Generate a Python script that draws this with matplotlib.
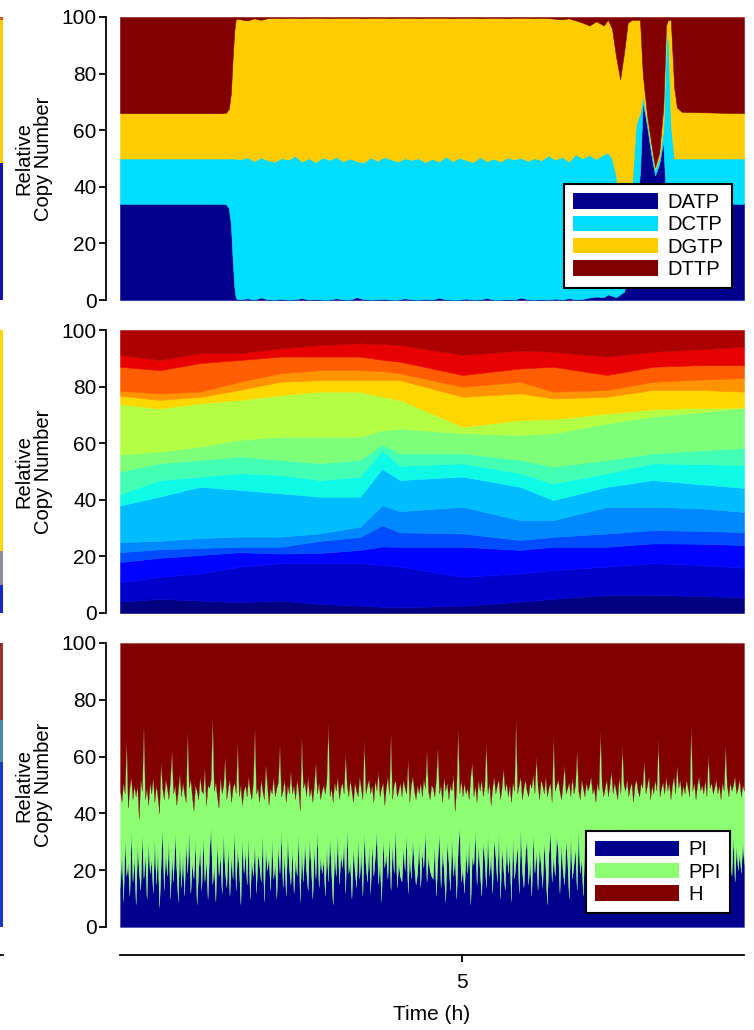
import numpy as np
import matplotlib
matplotlib.use('Agg')
import matplotlib.pyplot as plt
from matplotlib.patches import Patch

plt.rcParams['font.family'] = ['Liberation Sans', 'DejaVu Sans']

# ---------------- top panel: nucleotides ----------------
top_names = ['DATP', 'DCTP', 'DGTP', 'DTTP']
top_colors = ['#00008C', '#00DDFF', '#FFCC00', '#800000']
top_t = [0.00, 1.50, 1.55, 1.59, 1.62, 1.645, 1.67, 1.69, 1.71,
         1.76, 1.86, 1.96, 2.06, 2.16, 2.26, 2.36, 2.46, 2.56, 2.66,
         2.76, 2.86, 2.96, 3.06, 3.16, 3.26, 3.36, 3.46, 3.56, 3.66,
         3.76, 3.86, 3.96, 4.06, 4.16, 4.26, 4.36, 4.46, 4.56, 4.66,
         4.76, 4.86, 4.96, 5.06, 5.16, 5.26, 5.36, 5.46, 5.56, 5.66,
         5.76, 5.86, 5.96, 6.06, 6.16, 6.26, 6.36, 6.46, 6.56, 6.66,
         6.76, 6.86, 6.96,
         7.07, 7.13, 7.19, 7.25, 7.31, 7.37, 7.42, 7.48, 7.54, 7.60,
         7.64, 7.70, 7.76, 7.82, 7.88, 7.94, 7.98, 8.01, 8.05, 8.10,
         8.14, 8.21, 9.12]
datp = [34.0, 34.0, 33.8, 32.5, 27.0, 15.0, 5.0, 1.0, 0.3,
        0.2, 0.6, 0.1, 0.9, 0.2, 0.1, 0.4, 0.1, 0.2, 0.7,
        0.1, 0.3, 0.1, 0.1, 0.6, 0.2, 0.1, 1.0, 0.3, 0.1,
        0.2, 0.4, 0.1, 0.1, 0.6, 0.2, 0.1, 0.3, 0.1, 0.8,
        0.2, 0.1, 0.1, 0.5, 0.1, 0.2, 0.7, 0.1, 0.1, 0.3,
        0.1, 0.9, 0.2, 0.1, 0.3, 0.1, 0.5, 0.1, 0.7, 0.2,
        0.4, 0.9, 1.2,
        1.0, 2.0, 1.5, 1.0, 2.0, 3.0, 10.0, 20.0, 30.0, 45.0,
        70.0, 62.0, 52.0, 44.0, 48.0, 56.0, 35.0, 25.0, 22.0, 33.0,
        34.0, 34.0, 34.0]
dctp = [16.0, 16.0, 16.2, 17.5, 23.0, 35.0, 45.0, 49.0, 49.5,
        49.5, 49.8, 49.0, 49.4, 49.2, 48.7, 49.7, 49.5, 50.7, 48.2,
        50.0, 48.4, 50.3, 49.4, 49.9, 48.8, 49.9, 48.1, 48.3, 50.2,
        49.0, 50.1, 49.6, 48.8, 49.5, 49.3, 50.0, 48.4, 49.8, 48.1,
        50.5, 49.0, 50.1, 49.0, 48.6, 50.3, 48.3, 49.9, 48.8, 50.0,
        49.6, 49.3, 49.0, 50.0, 49.1, 51.0, 49.1, 50.5, 48.2, 51.2,
        49.7, 50.3, 48.6,
        50.5, 50.0, 48.5, 43.0, 28.0, 17.0, 15.0, 20.0, 32.0, 21.0,
        2.0, 2.0, 2.0, 2.0, 2.0, 4.0, 55.0, 71.0, 40.0, 17.0,
        16.0, 16.0, 16.0]
dgtp = [16.0, 16.0, 16.2, 17.5, 23.0, 35.0, 45.0, 49.0, 49.6,
        49.5, 48.4, 50.4, 48.7, 50.2, 50.9, 49.5, 50.1, 48.8, 50.7,
        49.6, 51.0, 49.3, 50.1, 49.2, 50.7, 49.7, 50.6, 51.0, 49.4,
        50.5, 49.2, 49.9, 50.8, 49.6, 50.2, 49.5, 51.0, 49.8, 50.8,
        49.0, 50.5, 49.5, 50.2, 51.0, 49.1, 50.7, 49.7, 50.8, 49.3,
        50.0, 49.5, 50.5, 49.5, 50.3, 48.5, 49.8, 48.6, 50.6, 47.4,
        47.9, 45.8, 48.7,
        45.5, 47.0, 46.0, 42.0, 48.0, 68.0, 73.0, 59.0, 37.0, 33.0,
        8.0, 2.0, 2.0, 1.0, 2.0, 8.0, 7.0, 3.0, 37.0, 25.0,
        18.0, 16.5, 16.0]
dttp = [34.0, 34.0, 33.8, 32.5, 27.0, 15.0, 5.0, 1.0, 0.6,
        0.8, 1.2, 0.5, 1.0, 0.4, 0.3, 0.4, 0.3, 0.3, 0.4,
        0.3, 0.3, 0.3, 0.4, 0.3, 0.3, 0.3, 0.3, 0.4, 0.3,
        0.3, 0.3, 0.4, 0.3, 0.3, 0.3, 0.4, 0.3, 0.3, 0.3,
        0.3, 0.4, 0.3, 0.3, 0.3, 0.4, 0.3, 0.3, 0.3, 0.4,
        0.3, 0.3, 0.3, 0.4, 0.3, 0.4, 0.6, 0.8, 0.5, 1.2,
        2.0, 3.0, 1.5,
        3.0, 1.0, 4.0, 14.0, 22.0, 12.0, 2.0, 1.0, 1.0, 1.0,
        20.0, 34.0, 44.0, 53.0, 48.0, 32.0, 3.0, 1.0, 1.0, 25.0,
        32.0, 33.5, 34.0]

# ---------------- middle panel: 15 species, cumulative boundaries ----------------
mid_t = [0.00, 0.58, 1.17, 1.75, 2.34, 2.92, 3.51, 3.83, 4.09, 5.01, 5.85, 6.33, 7.12, 7.79, 8.48, 9.12]
b01 = [4.0, 5.0, 4.4, 3.8, 4.4, 3.2, 2.6, 2.2, 2.0, 2.6, 4.0, 5.0, 6.4, 6.4, 6.0, 5.5]
b02 = [10.8, 12.8, 14.0, 16.4, 17.6, 17.6, 17.6, 17.0, 16.4, 12.8, 14.0, 15.2, 16.4, 17.6, 17.0, 16.0]
b03 = [18.0, 19.5, 20.5, 21.5, 21.0, 21.2, 22.3, 23.5, 23.4, 23.4, 22.3, 23.4, 23.4, 24.6, 24.5, 24.0]
b04 = [21.5, 22.5, 23.0, 23.4, 23.4, 25.5, 26.9, 31.0, 28.5, 28.1, 25.8, 26.9, 28.1, 29.3, 29.0, 28.6]
b05 = [25.0, 25.5, 26.5, 27.0, 27.0, 28.1, 30.5, 38.0, 36.0, 37.5, 32.8, 32.8, 37.5, 37.5, 37.0, 35.7]
b06 = [38.0, 41.1, 44.6, 43.5, 42.3, 41.1, 41.1, 51.0, 47.0, 48.2, 44.6, 39.9, 44.6, 47.0, 45.5, 44.2]
b07 = [42.0, 47.0, 48.2, 49.4, 48.8, 47.0, 48.2, 57.6, 52.0, 52.9, 49.4, 45.8, 49.4, 52.9, 52.6, 52.3]
b08 = [50.0, 52.9, 54.1, 55.3, 54.1, 52.9, 54.1, 59.5, 56.4, 56.4, 54.1, 51.7, 54.1, 56.4, 57.5, 58.3]
b09 = [56.0, 57.0, 58.8, 61.2, 62.3, 62.3, 62.3, 64.5, 65.2, 63.5, 62.9, 63.5, 67.0, 69.4, 71.0, 72.4]
b10 = [73.8, 72.3, 74.1, 75.3, 77.0, 78.2, 78.2, 76.5, 75.3, 65.8, 68.2, 68.5, 70.5, 72.0, 72.5, 72.6]
b11 = [76.8, 75.3, 76.4, 78.8, 81.7, 82.3, 82.3, 82.3, 82.3, 76.4, 77.6, 75.8, 76.4, 78.8, 78.8, 78.2]
b12 = [78.5, 77.6, 78.2, 81.7, 84.7, 85.8, 85.8, 85.5, 84.7, 79.9, 81.7, 78.2, 78.8, 81.7, 82.5, 83.0]
b13 = [87.0, 85.8, 88.3, 89.4, 90.6, 90.6, 90.6, 89.5, 88.8, 84.1, 86.4, 87.0, 84.1, 87.0, 87.6, 87.6]
b14 = [91.2, 89.4, 91.8, 91.8, 93.5, 94.7, 95.3, 95.0, 94.7, 91.2, 92.7, 92.3, 90.6, 92.3, 93.2, 94.1]
mid_jet_pos = [0.0, 0.07, 0.13, 0.2, 0.26, 0.31, 0.37, 0.43, 0.5, 0.57, 0.68, 0.75, 0.81, 0.91, 0.96]

# ---------------- bottom panel: PI / PPI / H ----------------
bot_names = ['PI', 'PPI', 'H']
bot_colors = ['#00008C', '#8CFF72', '#800000']
pi_vals = [14, 27, 9, 31, 18, 23, 11, 34, 16, 25,
           8, 29, 20, 13, 33, 17, 26, 10, 30, 19,
           24, 12, 32, 15, 28, 7, 22, 35, 13, 27,
           18, 31, 10, 25, 16, 33, 21, 9, 29, 14,
           26, 11, 30, 19, 34, 12, 23, 17, 31, 8,
           20, 28, 13, 32, 16, 24, 10, 27, 35, 15,
           22, 9, 30, 18, 26, 12, 33, 20, 14, 29,
           11, 25, 17, 34, 13, 28, 21, 8, 31, 19,
           27, 15, 32, 10, 24, 18, 30, 12, 26, 22,
           16, 33, 9, 28, 20, 25, 13, 31, 17, 23,
           10, 29, 19, 34, 14, 26, 11, 32, 21, 15,
           28, 12, 24, 18, 33, 9, 27, 16, 30, 20,
           13, 31, 22, 10, 28, 17, 34, 14, 25, 19,
           24, 11, 29, 16, 32, 20, 8, 27, 18, 33,
           15, 26, 21, 30, 12, 35, 19, 23, 10, 28,
           20, 14, 31, 17, 27, 11, 33, 22, 16, 29,
           12, 30, 18, 25, 34, 15, 24, 9, 31, 21,
           26, 17, 32, 13, 29, 19, 35, 14, 23, 18,
           16, 28, 20, 33, 12, 26, 17, 31, 22, 15,
           19, 30, 14, 27, 21, 34, 16, 25, 20, 18,
           17, 29, 11, 24, 33, 14, 27, 20, 9, 30,
           23, 13, 32, 18, 26, 10, 28, 35, 16, 21,
           12, 27, 19, 31, 8, 25, 22, 34, 15, 29,
           20, 11, 30, 24, 14, 33, 18, 26, 12, 31,
           25, 16, 34, 10, 28, 21, 13, 30, 19, 27,
           9, 32, 17, 23, 29, 12, 35, 20, 14, 26,
           31, 15, 24, 11, 33, 19, 27, 13, 28, 22,
           14, 30, 21, 8, 26, 34, 16, 25, 18, 32,
           27, 12, 29, 20, 15, 31, 23, 10, 33, 17,
           22, 28, 13, 34, 19, 24, 11, 30, 16, 26,
           18, 33, 10, 27, 21, 14, 32, 25, 12, 29,
           24, 15, 31, 18, 28, 9, 26, 35, 20, 13,
           30, 17, 23, 12, 34, 22, 15, 28, 11, 27,
           16, 26, 33, 19, 13, 29, 21, 31, 14, 24,
           28, 11, 25, 32, 17, 23, 10, 30, 22, 18,
           13, 31, 20, 26, 15, 34, 18, 24, 29, 12,
           26, 19, 33, 14, 27, 21, 12, 32, 17, 25,
           15, 29, 22, 35, 16, 28, 13, 26, 20, 31,
           21, 14, 30, 18, 25, 33, 17, 23, 15, 28,
           24, 18, 32, 16, 29, 20, 26, 19, 30, 22]
ppi_vals = [34, 17, 42, 16, 48, 19, 38, 19, 29, 25,
            38, 21, 18, 39, 15, 54, 19, 39, 13, 32,
            23, 41, 12, 35, 18, 33, 36, 14, 32, 25,
            31, 14, 42, 37, 31, 17, 22, 39, 25, 32,
            25, 36, 14, 50, 15, 40, 23, 24, 19, 40,
            25, 25, 35, 15, 40, 19, 40, 22, 17, 59,
            26, 42, 16, 24, 27, 35, 17, 40, 31, 20,
            41, 19, 32, 17, 34, 37, 25, 42, 12, 29,
            23, 31, 21, 38, 21, 33, 40, 35, 23, 22,
            36, 15, 36, 29, 30, 18, 36, 16, 36, 23,
            39, 22, 45, 12, 34, 26, 33, 18, 26, 40,
            19, 38, 21, 34, 15, 32, 40, 33, 21, 26,
            40, 15, 27, 34, 22, 41, 13, 37, 20, 29,
            26, 36, 23, 56, 14, 29, 36, 24, 30, 20,
            30, 23, 30, 17, 49, 15, 27, 29, 38, 16,
            31, 34, 15, 36, 22, 34, 33, 25, 34, 23,
            35, 20, 26, 27, 14, 40, 22, 40, 20, 22,
            23, 36, 15, 55, 16, 31, 17, 32, 25, 33,
            30, 24, 29, 14, 47, 18, 33, 22, 26, 30,
            31, 17, 37, 19, 31, 15, 46, 23, 25, 32,
            32, 17, 41, 39, 14, 36, 17, 33, 39, 21,
            22, 37, 16, 36, 15, 39, 42, 12, 36, 25,
            39, 20, 30, 14, 45, 33, 24, 16, 29, 23,
            28, 41, 16, 26, 51, 14, 33, 17, 37, 22,
            22, 34, 18, 35, 21, 35, 35, 21, 27, 23,
            35, 19, 31, 50, 18, 38, 18, 25, 35, 26,
            17, 31, 27, 38, 21, 28, 33, 37, 17, 30,
            36, 17, 32, 38, 23, 17, 28, 42, 30, 18,
            25, 36, 16, 30, 42, 16, 26, 41, 13, 36,
            25, 22, 49, 14, 26, 28, 38, 16, 35, 22,
            32, 20, 37, 22, 23, 37, 16, 44, 38, 17,
            25, 37, 15, 32, 27, 38, 25, 13, 25, 40,
            17, 47, 27, 36, 18, 24, 34, 23, 33, 23,
            36, 22, 13, 32, 36, 30, 26, 19, 39, 21,
            22, 36, 27, 16, 49, 23, 39, 21, 25, 35,
            35, 20, 25, 24, 38, 13, 39, 25, 23, 34,
            24, 28, 19, 35, 19, 50, 36, 19, 28, 25,
            38, 19, 28, 12, 36, 18, 48, 23, 31, 16,
            28, 38, 17, 32, 20, 18, 31, 41, 35, 18,
            27, 30, 18, 37, 18, 29, 26, 27, 20, 26]
T_END = 9.12

# left-edge remnants of a neighbouring column of panels
strip_top = [48.5, 50.5, 1.0]
strip_top_colors = ['#1414B4', '#FFCC00', '#C86400']
strip_mid = [10.0, 12.0, 78.0]
strip_mid_colors = ['#1428C8', '#8C8CA0', '#FFD800']
strip_bot = [58.0, 15.0, 27.0]
strip_bot_colors = ['#1838C8', '#4A8AA8', '#9A3030']

# ---------------- figure ----------------
fig = plt.figure(figsize=(7.54, 10.30), dpi=100)
FW, FH = 754.0, 1030.0
L, W = 120 / FW, 624 / FW


def rect(top, bottom):
    return [L, 1 - bottom / FH, W, (bottom - top) / FH]


def style_panel(ax):
    ax.set_xlim(0, T_END)
    ax.set_ylim(0, 100)
    for s in ['top', 'right', 'bottom']:
        ax.spines[s].set_visible(False)
    ax.spines['left'].set_position(('outward', 10))
    ax.spines['left'].set_linewidth(1.3)
    ax.set_xticks([])
    ax.set_yticks([0, 20, 40, 60, 80, 100])
    ax.tick_params(axis='y', direction='out', length=5, width=1.3,
                   labelsize=15, pad=2)
    ax.set_ylabel('Relative\nCopy Number', fontsize=14.5, linespacing=1.05,
                  va='center')
    ax.yaxis.set_label_coords(-0.139, 0.5)


def add_legend(ax, names, colors, pad):
    handles = [Patch(facecolor=c, edgecolor='none') for c in colors]
    leg = ax.legend(handles, names, loc='lower right', fontsize=14.5,
                    frameon=True, fancybox=False, edgecolor='black',
                    framealpha=1, handlelength=4.2, handleheight=0.8,
                    handletextpad=0.45, labelspacing=0.16, borderpad=0.45,
                    borderaxespad=pad)
    leg.get_frame().set_linewidth(1.5)


ax1 = fig.add_axes(rect(17, 300))
ax2 = fig.add_axes(rect(330, 613))
ax3 = fig.add_axes(rect(643, 927))

# top
ax1.stackplot(top_t, datp, dctp, dgtp, dttp, colors=top_colors,
              edgecolor='face', linewidth=0.4)
style_panel(ax1)
add_legend(ax1, top_names, top_colors, 0.6)

# middle
bounds = np.array([np.zeros(len(mid_t)), b01, b02, b03, b04, b05, b06, b07,
                   b08, b09, b10, b11, b12, b13, b14, np.full(len(mid_t), 100.0)])
layers = np.diff(bounds, axis=0)
mid_colors = [plt.cm.jet(p) for p in mid_jet_pos]
ax2.stackplot(mid_t, *layers, colors=mid_colors, edgecolor='face', linewidth=0.4)
style_panel(ax2)

# bottom
bot_t = np.linspace(0, T_END, len(pi_vals))
pi = np.array(pi_vals, dtype=float)
ppi = np.array(ppi_vals, dtype=float)
h_vals = 100 - pi - ppi
ax3.stackplot(bot_t, pi, ppi, h_vals, colors=bot_colors, edgecolor='face',
              linewidth=0.2)
style_panel(ax3)
add_legend(ax3, bot_names, bot_colors, 0.7)

# shared time axis
axx = fig.add_axes([L, 1 - 955 / FH, W, 0.0005])
axx.set_xlim(0, T_END)
axx.set_yticks([])
for s in ['top', 'right', 'left']:
    axx.spines[s].set_visible(False)
axx.spines['bottom'].set_linewidth(1.3)
axx.patch.set_visible(False)
axx.set_xticks([5])
axx.tick_params(axis='x', direction='out', length=5, width=1.3, labelsize=15, pad=8)
axx.set_xlabel('Time (h)', fontsize=15, labelpad=9)

# remnants at the far left edge
sw = 3 / FW
for (top, bottom), vals, cols in [((17, 300), strip_top, strip_top_colors),
                                  ((330, 613), strip_mid, strip_mid_colors),
                                  ((643, 927), strip_bot, strip_bot_colors)]:
    axs = fig.add_axes([-0.05, 1 - bottom / FH, 0.05 + sw, (bottom - top) / FH])
    base = 0.0
    for v, c in zip(vals, cols):
        axs.bar(0, v, bottom=base, width=1.0, color=c, linewidth=0)
        base += v
    axs.set_xlim(-0.5, 0.5)
    axs.set_ylim(0, 100)
    axs.axis('off')
axl = fig.add_axes([-0.05, 1 - 955 / FH, 0.05 + sw, 0.0005])
axl.set_xticks([]); axl.set_yticks([])
for s in ['top', 'right', 'left']:
    axl.spines[s].set_visible(False)
axl.spines['bottom'].set_linewidth(1.3)
axl.patch.set_visible(False)

fig.savefig('out.png', dpi=100)
